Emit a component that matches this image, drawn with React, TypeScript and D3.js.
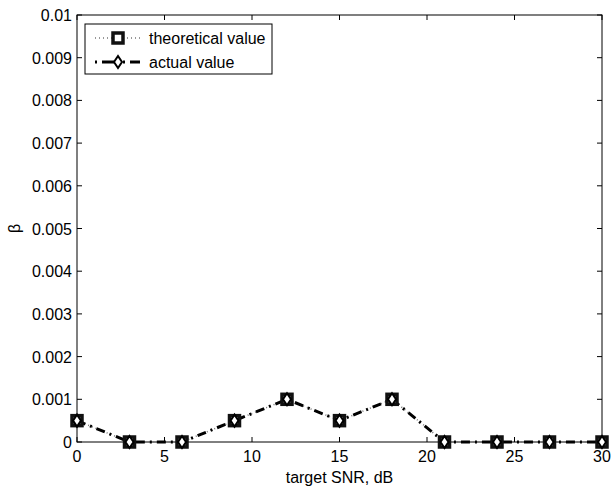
import { useEffect, useRef } from "react";
import * as d3 from "d3";

const snr = [0, 3, 6, 9, 12, 15, 18, 21, 24, 27, 30];
const theoretical = [0.0005, 0, 0, 0.0005, 0.001, 0.0005, 0.001, 0, 0, 0, 0];
const actual = [0.0005, 0, 0, 0.0005, 0.001, 0.0005, 0.001, 0, 0, 0, 0];
const xTicks = [0, 5, 10, 15, 20, 25, 30];
const yTicks = [0, 0.001, 0.002, 0.003, 0.004, 0.005, 0.006, 0.007, 0.008, 0.009, 0.01];
const legendLabels = ["theoretical value", "actual value"];

const FONT = "'Liberation Sans', Arial, sans-serif";

export default function App() {
  const svgRef = useRef<SVGSVGElement>(null);

  useEffect(() => {
    const el = svgRef.current!;
    const W = 611, H = 487;
    const m = { top: 15, right: 9, bottom: 45, left: 77 };
    const iW = W - m.left - m.right;
    const iH = H - m.top - m.bottom;

    d3.select(el).selectAll("*").remove();
    const svg = d3.select(el).attr("viewBox", `0 0 ${W} ${H}`);
    svg.append("rect").attr("width", W).attr("height", H).attr("fill", "#fff");
    const g = svg.append("g").attr("transform", `translate(${m.left},${m.top})`);

    const x = d3.scaleLinear().domain([0, 30]).range([0, iW]);
    const y = d3.scaleLinear().domain([0, 0.01]).range([iH, 0]);

    // frame
    g.append("rect").attr("width", iW).attr("height", iH)
      .attr("fill", "none").attr("stroke", "#000").attr("stroke-width", 1);

    const fmt = (d: number) => (d === 0 ? "0" : String(+d.toFixed(3)));

    // ticks point inward on all four sides
    xTicks.forEach(t => {
      const px = x(t);
      g.append("line").attr("x1", px).attr("x2", px).attr("y1", iH).attr("y2", iH - 5).attr("stroke", "#000");
      g.append("line").attr("x1", px).attr("x2", px).attr("y1", 0).attr("y2", 5).attr("stroke", "#000");
      g.append("text").attr("x", px).attr("y", iH + 20).attr("text-anchor", "middle")
        .attr("font-family", FONT).attr("font-size", 16).text(String(t));
    });
    yTicks.forEach(t => {
      const py = y(t);
      g.append("line").attr("x1", 0).attr("x2", 5).attr("y1", py).attr("y2", py).attr("stroke", "#000");
      g.append("line").attr("x1", iW).attr("x2", iW - 5).attr("y1", py).attr("y2", py).attr("stroke", "#000");
      g.append("text").attr("x", -5).attr("y", py + 6).attr("text-anchor", "end")
        .attr("font-family", FONT).attr("font-size", 16).text(fmt(t));
    });

    // axis labels
    svg.append("text").attr("x", m.left + iW / 2).attr("y", 483).attr("text-anchor", "middle")
      .attr("font-family", FONT).attr("font-size", 16).text("target SNR, dB");
    svg.append("text").attr("transform", `translate(20,${m.top + iH / 2}) rotate(-90)`)
      .attr("text-anchor", "middle").attr("font-family", FONT).attr("font-size", 16).text("β");

    const line = d3.line<number>().x((d, i) => x(snr[i])).y(d => y(d));

    // theoretical: dotted grey with squares
    g.append("path").datum(theoretical).attr("d", line).attr("fill", "none")
      .attr("stroke", "#777").attr("stroke-width", 1.5).attr("stroke-dasharray", "1,3");
    // actual: thick dash-dot black
    g.append("path").datum(actual).attr("d", line).attr("fill", "none")
      .attr("stroke", "#000").attr("stroke-width", 3).attr("stroke-dasharray", "9,5,2,5");

    const square = (sel: d3.Selection<SVGGElement, unknown, null, undefined>, cx: number, cy: number) =>
      sel.append("rect").attr("x", cx - 5).attr("y", cy - 5).attr("width", 10).attr("height", 10)
        .attr("fill", "#fff").attr("stroke", "#111").attr("stroke-width", 3.5);
    const diamond = (sel: d3.Selection<SVGGElement, unknown, null, undefined>, cx: number, cy: number) =>
      sel.append("path").attr("d", `M${cx},${cy - 6}L${cx + 4},${cy}L${cx},${cy + 6}L${cx - 4},${cy}Z`)
        .attr("fill", "#fff").attr("stroke", "#000").attr("stroke-width", 2);

    theoretical.forEach((v, i) => square(g, x(snr[i]), y(v)));
    actual.forEach((v, i) => diamond(g, x(snr[i]), y(v)));

    // legend
    const lg = svg.append("g").attr("transform", "translate(85,24)");
    lg.append("rect").attr("width", 187).attr("height", 50).attr("fill", "#fff")
      .attr("stroke", "#000").attr("stroke-width", 1);
    const rows = [14, 38];
    lg.append("line").attr("x1", 10).attr("x2", 55).attr("y1", rows[0]).attr("y2", rows[0])
      .attr("stroke", "#777").attr("stroke-width", 1.5).attr("stroke-dasharray", "1,3");
    square(lg, 33, rows[0]);
    lg.append("line").attr("x1", 10).attr("x2", 55).attr("y1", rows[1]).attr("y2", rows[1])
      .attr("stroke", "#000").attr("stroke-width", 3).attr("stroke-dasharray", "2,5,16,5");
    diamond(lg, 33, rows[1]);
    legendLabels.forEach((t, i) => {
      lg.append("text").attr("x", 64).attr("y", rows[i] + 6).attr("font-family", FONT)
        .attr("font-size", 16).text(t);
    });
  }, []);

  return <svg ref={svgRef} width={611} height={487} style={{ display: "block", position: "absolute", left: 0, top: 0 }} />;
}
